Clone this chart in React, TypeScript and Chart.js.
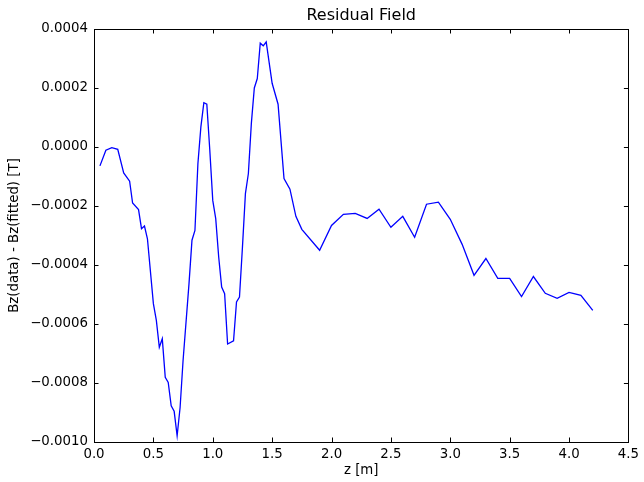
import React, { useEffect, useRef } from "react";
import { Chart, registerables } from "chart.js";

Chart.register(...registerables);

const chartTitle = "Residual Field";
const xAxisTitle = "z [m]";
const yAxisTitle = "Bz(data) - Bz(fitted) [T]";

const zValues = [
  0.05, 0.1, 0.15, 0.2, 0.25, 0.3, 0.325, 0.375, 0.4, 0.425, 0.45, 0.5, 0.525, 0.55, 0.575,
  0.6, 0.625, 0.65, 0.675, 0.7, 0.725, 0.75, 0.8, 0.825, 0.85, 0.875, 0.9, 0.925, 0.95, 0.975,
  1.0, 1.025, 1.05, 1.075, 1.1, 1.125, 1.175, 1.2, 1.225, 1.25, 1.275, 1.3, 1.325, 1.35, 1.375,
  1.4, 1.425, 1.45, 1.5, 1.55, 1.6, 1.65, 1.7, 1.75, 1.9, 2.0, 2.1, 2.2, 2.3, 2.4, 2.5, 2.6,
  2.7, 2.8, 2.9, 3.0, 3.1, 3.2, 3.3, 3.4, 3.5, 3.6, 3.7, 3.8, 3.9, 4.0, 4.1, 4.2,
];

const residuals = [
  -0.000064, -0.000011, -0.000002, -0.000008, -0.000088, -0.000116, -0.00019, -0.000212,
  -0.000277, -0.000268, -0.000311, -0.000531, -0.000588, -0.000679, -0.00065, -0.000781,
  -0.000798, -0.000877, -0.000896, -0.000979, -0.000883, -0.000724, -0.000463, -0.000316,
  -0.000283, -0.000056, 0.000068, 0.00015, 0.000145, -0.00001, -0.000181, -0.000243,
  -0.000373, -0.000475, -0.000497, -0.000668, -0.000657, -0.000525, -0.000509, -0.00034,
  -0.000158, -0.00009, 0.00008, 0.0002, 0.000232, 0.000352, 0.000343, 0.000356, 0.000216,
  0.000145, -0.000107, -0.000143, -0.000235, -0.000279, -0.00035, -0.000266, -0.000228,
  -0.000225, -0.000242, -0.000211, -0.000272, -0.000235, -0.000306, -0.000194, -0.000187,
  -0.000245, -0.00033, -0.000435, -0.000378, -0.000445, -0.000445, -0.000507, -0.000439,
  -0.000496, -0.000513, -0.000493, -0.000503, -0.000554,
];

const xTickValues = [0, 0.5, 1, 1.5, 2, 2.5, 3, 3.5, 4, 4.5];
const yTickValues = [0.0004, 0.0002, 0, -0.0002, -0.0004, -0.0006, -0.0008, -0.001];

const FONT = "'DejaVu Sans', sans-serif";

const framePlugin = {
  id: "mplFrame",
  afterDraw(chart: any) {
    const { ctx, chartArea } = chart;
    const { left, right, top, bottom } = chartArea;
    const xs = chart.scales.x;
    const ys = chart.scales.y;
    ctx.save();
    ctx.strokeStyle = "#000";
    ctx.lineWidth = 1;
    ctx.beginPath();
    const tl = 4.5;
    xTickValues.forEach((v) => {
      const px = Math.round(xs.getPixelForValue(v)) + 0.5;
      ctx.moveTo(px, bottom);
      ctx.lineTo(px, bottom - tl);
      ctx.moveTo(px, top);
      ctx.lineTo(px, top + tl);
    });
    yTickValues.forEach((v) => {
      const py = Math.round(ys.getPixelForValue(v)) + 0.5;
      ctx.moveTo(left, py);
      ctx.lineTo(left + tl, py);
      ctx.moveTo(right, py);
      ctx.lineTo(right - tl, py);
    });
    ctx.stroke();
    ctx.strokeRect(Math.round(left) + 0.5, Math.round(top) + 0.5, Math.round(right - left), Math.round(bottom - top));
    ctx.fillStyle = "#000";
    ctx.textAlign = "center";
    ctx.textBaseline = "middle";
    ctx.font = `16px ${FONT}`;
    ctx.fillText(chartTitle, (left + right) / 2, 16);
    ctx.font = `13.33px ${FONT}`;
    ctx.fillText(xAxisTitle, (left + right) / 2, 471);
    ctx.translate(15, (top + bottom) / 2);
    ctx.rotate(-Math.PI / 2);
    ctx.fillText(yAxisTitle, 0, 0);
    ctx.restore();
  },
};

export default function App() {
  const canvasRef = useRef<HTMLCanvasElement | null>(null);

  useEffect(() => {
    if (!canvasRef.current) return;
    const points = zValues.map((z, i) => ({ x: z, y: residuals[i] }));
    const chart = new Chart(canvasRef.current, {
      type: "line",
      data: {
        datasets: [
          {
            data: points,
            borderColor: "#0000ff",
            borderWidth: 1.3,
            pointRadius: 0,
            tension: 0,
            fill: false,
          },
        ],
      },
      options: {
        animation: false,
        responsive: false,
        devicePixelRatio: 1,
        layout: { padding: { left: 0, right: 13, top: 29, bottom: 0 } },
        plugins: {
          legend: { display: false },
          tooltip: { enabled: false },
          title: { display: false },
        },
        scales: {
          x: {
            type: "linear",
            min: 0,
            max: 4.5,
            grid: { display: false, drawTicks: false },
            border: { display: false },
            ticks: {
              stepSize: 0.5,
              color: "#000",
              font: { family: FONT, size: 13.33 },
              padding: 5,
              maxRotation: 0,
              callback: (v: any) => Number(v).toFixed(1),
            },
            afterFit: (s: any) => {
              s.height = 40;
            },
          },
          y: {
            type: "linear",
            min: -0.001,
            max: 0.0004,
            grid: { display: false, drawTicks: false },
            border: { display: false },
            ticks: {
              stepSize: 0.0002,
              color: "#000",
              font: { family: FONT, size: 13.33 },
              padding: 6,
              callback: (v: any) => Number(v).toFixed(4).replace("-", "\u2212").replace("\u22120.0000", "0.0000"),
            },
            afterFit: (s: any) => {
              s.width = 94;
            },
          },
        },
      },
      plugins: [framePlugin],
    });
    return () => chart.destroy();
  }, []);

  return (
    <div style={{ position: "absolute", left: 0, top: 0, width: 644, height: 482, background: "#fff" }}>
      <canvas ref={canvasRef} width={644} height={482} style={{ display: "block" }} />
    </div>
  );
}
